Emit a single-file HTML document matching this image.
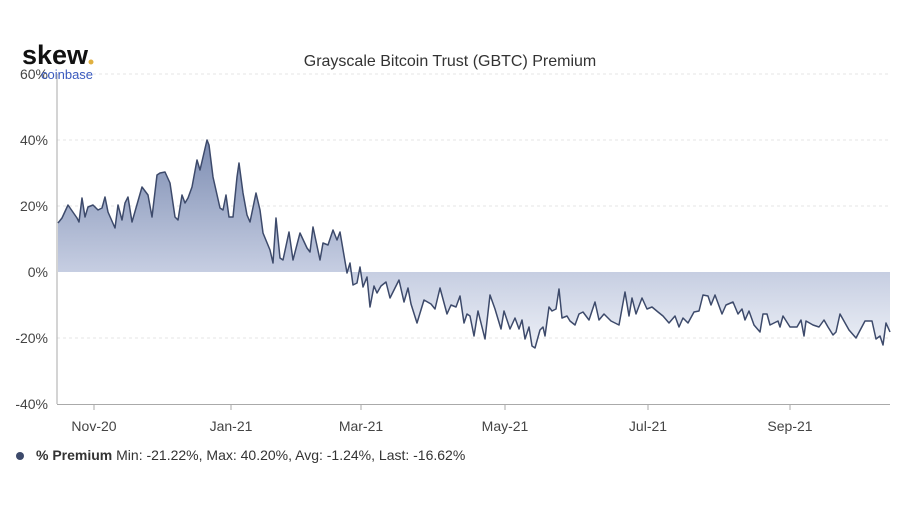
<!DOCTYPE html>
<html><head><meta charset="utf-8"><style>
body{margin:0;background:#fff;width:900px;height:502px;overflow:hidden;font-family:"Liberation Sans",sans-serif}
</style></head><body>
<svg width="900" height="502" xmlns="http://www.w3.org/2000/svg" font-family="Liberation Sans, sans-serif">
<defs><linearGradient id="g" gradientUnits="userSpaceOnUse" x1="0" y1="140" x2="0" y2="350">
<stop offset="0" stop-color="#7d8db2"/><stop offset="0.6" stop-color="#c3cbe0"/><stop offset="1" stop-color="#eef1f7"/></linearGradient></defs>
<text x="22" y="64" font-size="27" font-weight="bold" fill="#111">skew</text><circle cx="91" cy="62" r="2.5" fill="#e0b040"/>
<g stroke="#e6e6e6" stroke-dasharray="3,3"><line x1="57" y1="74" x2="890" y2="74"/><line x1="57" y1="140" x2="890" y2="140"/><line x1="57" y1="206" x2="890" y2="206"/><line x1="57" y1="338" x2="890" y2="338"/></g>
<text x="450" y="66" text-anchor="middle" font-size="16" fill="#333">Grayscale Bitcoin Trust (GBTC) Premium</text>
<g font-size="14" fill="#444" text-anchor="end"><text x="48" y="79">60%</text><text x="48" y="145">40%</text><text x="48" y="211">20%</text><text x="48" y="277">0%</text><text x="48" y="343">-20%</text><text x="48" y="409">-40%</text></g>
<text x="41" y="79" font-size="13" fill="#3b5bbf">coinbase</text>
<polygon fill="url(#g)" points="58,272 58,223 62,218 68,205 77,218 79,222 82,198 85,217 88,207 93,205 98,210 102,208 105,197 108,212 115,228 118,205 122,220 125,203 128,197 132,222 142,187 148,195 152,217 157,175 160,173 165,172 170,183 175,217 178,220 182,195 185,203 188,198 192,187 197,160 200,170 207,140 209,145 213,177 220,208 223,210 226,195 229,217 233,217 237,177 239,163 243,193 247,215 250,222 256,193 260,210 263,233 270,250 273,263 276,218 280,258 283,260 289,232 293,260 300,233 307,248 310,252 313,227 320,260 323,243 328,245 333,230 337,240 340,232 347,273 350,263 353,285 357,283 360,267 363,287 367,277 370,307 374,286 377,293 381,286 386,282 390,298 399,280 404,302 408,288 411,304 417,323 424,300 431,304 435,309 440,288 447,314 451,305 456,307 460,296 464,323 467,314 470,316 474,336 478,311 485,339 490,295 495,309 501,329 504,311 510,329 515,318 519,329 522,320 525,339 529,327 532,346 535,348 540,330 543,327 545,336 549,307 552,311 556,309 559,289 562,318 567,316 570,321 575,325 579,314 583,312 589,320 595,302 599,320 604,314 611,321 619,325 625,292 629,316 632,298 636,314 642,298 647,309 652,307 658,312 663,316 669,323 675,316 679,327 683,318 688,323 694,312 699,311 703,295 708,296 711,305 715,295 722,314 726,305 733,302 738,314 742,309 745,320 749,311 754,325 760,332 763,314 767,314 770,325 778,321 780,327 783,316 790,327 797,327 801,320 804,336 806,321 813,325 819,327 824,320 828,327 833,335 836,332 840,314 849,330 856,338 865,321 872,321 876,339 880,336 883,345 886,323 890,332 890,272"/>
<polyline fill="none" stroke="#3d4a6b" stroke-width="1.5" stroke-linejoin="round" points="58,223 62,218 68,205 77,218 79,222 82,198 85,217 88,207 93,205 98,210 102,208 105,197 108,212 115,228 118,205 122,220 125,203 128,197 132,222 142,187 148,195 152,217 157,175 160,173 165,172 170,183 175,217 178,220 182,195 185,203 188,198 192,187 197,160 200,170 207,140 209,145 213,177 220,208 223,210 226,195 229,217 233,217 237,177 239,163 243,193 247,215 250,222 256,193 260,210 263,233 270,250 273,263 276,218 280,258 283,260 289,232 293,260 300,233 307,248 310,252 313,227 320,260 323,243 328,245 333,230 337,240 340,232 347,273 350,263 353,285 357,283 360,267 363,287 367,277 370,307 374,286 377,293 381,286 386,282 390,298 399,280 404,302 408,288 411,304 417,323 424,300 431,304 435,309 440,288 447,314 451,305 456,307 460,296 464,323 467,314 470,316 474,336 478,311 485,339 490,295 495,309 501,329 504,311 510,329 515,318 519,329 522,320 525,339 529,327 532,346 535,348 540,330 543,327 545,336 549,307 552,311 556,309 559,289 562,318 567,316 570,321 575,325 579,314 583,312 589,320 595,302 599,320 604,314 611,321 619,325 625,292 629,316 632,298 636,314 642,298 647,309 652,307 658,312 663,316 669,323 675,316 679,327 683,318 688,323 694,312 699,311 703,295 708,296 711,305 715,295 722,314 726,305 733,302 738,314 742,309 745,320 749,311 754,325 760,332 763,314 767,314 770,325 778,321 780,327 783,316 790,327 797,327 801,320 804,336 806,321 813,325 819,327 824,320 828,327 833,335 836,332 840,314 849,330 856,338 865,321 872,321 876,339 880,336 883,345 886,323 890,332"/>
<line x1="57" y1="74" x2="57" y2="404" stroke="#aaa"/>
<line x1="57" y1="404.5" x2="890" y2="404.5" stroke="#aaa"/>
<g stroke="#aaa"><line x1="94" y1="404" x2="94" y2="410"/><line x1="231" y1="404" x2="231" y2="410"/><line x1="361" y1="404" x2="361" y2="410"/><line x1="505" y1="404" x2="505" y2="410"/><line x1="648" y1="404" x2="648" y2="410"/><line x1="790" y1="404" x2="790" y2="410"/></g>
<g font-size="14" fill="#444" text-anchor="middle"><text x="94" y="431">Nov-20</text><text x="231" y="431">Jan-21</text><text x="361" y="431">Mar-21</text><text x="505" y="431">May-21</text><text x="648" y="431">Jul-21</text><text x="790" y="431">Sep-21</text></g>
<circle cx="20" cy="456" r="4" fill="#3d4a6b"/>
<text x="36" y="460" font-size="14" fill="#333"><tspan font-weight="bold">% Premium</tspan> Min: -21.22%, Max: 40.20%, Avg: -1.24%, Last: -16.62%</text>
</svg>
</body></html>
